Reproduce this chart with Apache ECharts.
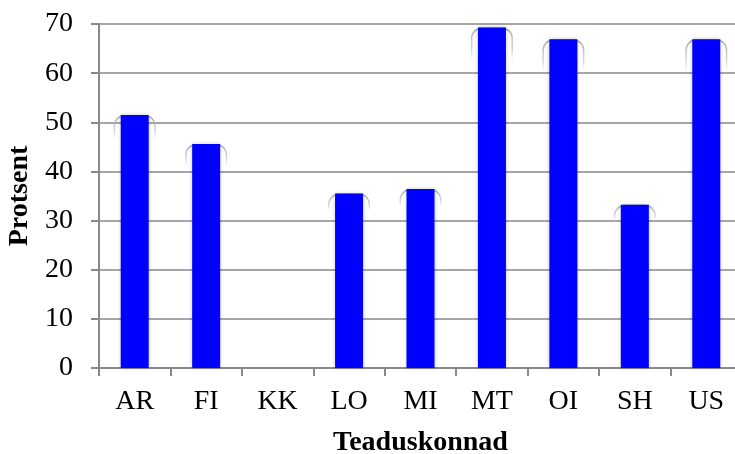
<!DOCTYPE html>
<html>
<head>
<meta charset="utf-8">
<script src="https://cdn.jsdelivr.net/npm/echarts@6/dist/echarts.min.js"></script>
<style>html,body{margin:0;padding:0;background:#fff}#c{width:735px;height:454px}</style>
</head>
<body>
<div id="c"></div>
<script>
const categories = ['AR', 'FI', 'KK', 'LO', 'MI', 'MT', 'OI', 'SH', 'US'];
const values = [51.5, 45.6, 0, 35.5, 36.4, 69.3, 66.9, 33.2, 66.9];
const yTicks = { min: 0, max: 70, interval: 10 };
const xTitle = 'Teaduskonnad';
const yTitle = 'Protsent';

const chart = echarts.init(document.getElementById('c'), null, { renderer: 'canvas' });
const font = '"Liberation Serif", "Times New Roman", serif';
const axisGray = '#898989';
chart.setOption({
  animation: false,
  backgroundColor: '#fff',
  grid: { left: 99, top: 24, height: 344, width: 643, containLabel: false, outerBoundsMode: 'none' },
  xAxis: [
    {
      type: 'category',
      data: categories,
      name: xTitle,
      nameLocation: 'middle',
      nameGap: 61,
      nameTextStyle: { fontFamily: font, fontSize: 28, fontWeight: 'bold', color: '#000' },
      axisLine: { lineStyle: { color: axisGray, width: 2 } },
      axisTick: { show: true, length: 8, alignWithLabel: false, lineStyle: { color: axisGray, width: 2 } },
      axisLabel: { fontFamily: font, fontSize: 28, color: '#000', margin: 20 },
      splitLine: { show: false }
    },
    {
      type: 'category',
      data: categories,
      show: false,
      position: 'bottom'
    }
  ],
  yAxis: {
    type: 'value',
    min: yTicks.min, max: yTicks.max, interval: yTicks.interval,
    name: yTitle,
    nameLocation: 'middle',
    nameGap: 61,
    nameRotate: 90,
    nameTextStyle: { fontFamily: font, fontSize: 28, fontWeight: 'bold', color: '#000' },
    axisLine: { show: true, lineStyle: { color: axisGray, width: 2 } },
    axisTick: { show: true, length: 8, lineStyle: { color: axisGray, width: 2 } },
    axisLabel: { fontFamily: font, fontSize: 28, color: '#000', margin: 26 },
    splitLine: { show: true, lineStyle: { color: axisGray, width: 1.5 } }
  },
  series: [
    {
      type: 'bar',
      xAxisIndex: 1,
      data: values,
      barWidth: 42,
      z: 1,
      silent: true,
      itemStyle: {
        color: 'rgba(0,0,0,0)',
        borderRadius: [10, 10, 0, 0],
        borderWidth: 1.5,
        borderColor: {
          type: 'linear', x: 0, y: 0, x2: 0, y2: 1,
          colorStops: [
            { offset: 0, color: 'rgba(160,160,160,0.9)' },
            { offset: 0.07, color: 'rgba(195,195,195,0.6)' },
            { offset: 0.11, color: 'rgba(255,255,255,0)' },
            { offset: 1, color: 'rgba(255,255,255,0)' }
          ]
        }
      }
    },
    {
      type: 'bar',
      xAxisIndex: 0,
      data: values,
      barWidth: 28,
      z: 2,
      itemStyle: {
        color: '#0000ff',
        shadowColor: 'rgba(0,0,0,0.22)',
        shadowBlur: 4
      }
    }
  ]
});
</script>
</body>
</html>
